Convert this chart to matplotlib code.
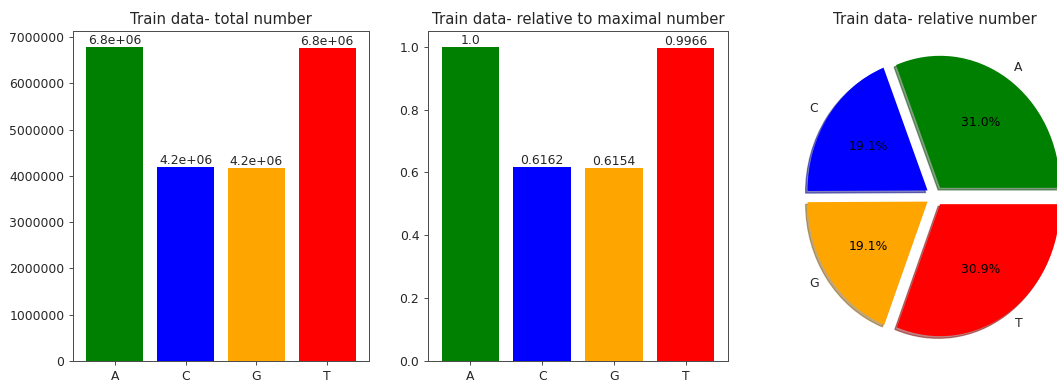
import matplotlib
matplotlib.use("Agg")
import matplotlib.pyplot as plt

bases = ["A", "C", "G", "T"]
counts = [6790000, 4184000, 4178600, 6767000]
colors = ["green", "blue", "orange", "red"]

relativo = [c / max(counts) for c in counts]

W, H = 1057, 381
DPI = 89
fig = plt.figure(figsize=(W / DPI, H / DPI), dpi=DPI)

def caixa(x0, x1, y0, y1):
    return [x0 / W, 1 - y1 / H, (x1 - x0) / W, (y1 - y0) / H]

# total
ax1 = fig.add_axes(caixa(73, 369, 31, 361))
barras = ax1.bar(bases, counts, color=colors)
for b, v in zip(barras, counts):
    ax1.text(b.get_x() + b.get_width() / 2, b.get_height(), "{:.1e}".format(v),
             ha="center", va="bottom", fontsize=10, color="0.15")
ax1.set_title("Train data- total number", color="0.15")
ax1.ticklabel_format(axis="y", style="plain")

# relativo ao maximo
ax2 = fig.add_axes(caixa(428, 728, 31, 361))
barras = ax2.bar(bases, relativo, color=colors)
for b, v in zip(barras, relativo):
    ax2.text(b.get_x() + b.get_width() / 2, b.get_height(), str(round(v, 4)),
             ha="center", va="bottom", fontsize=10, color="0.15")
ax2.set_title("Train data- relative to maximal number", color="0.15")

# pizza
ax3 = fig.add_axes(caixa(785, 1085, 31, 361))
_, textos, pcts = ax3.pie(counts, labels=bases, colors=colors, autopct="%1.1f%%",
                          explode=[0.075] * 4,
                          shadow={"ox": -0.013, "oy": -0.013, "shade": 0.5})
for t in textos:
    t.set_color("0.15")
ax3.set_aspect("auto")
ax3.set_xlim(-1.25, 1.25)
ax3.set_ylim(-1.25, 1.25)
ax3.set_title("Train data- relative number", color="0.15")

for ax in (ax1, ax2):
    for s in ax.spines.values():
        s.set_color("0.3")
    ax.tick_params(colors="0.3", labelcolor="0.15")

plt.savefig("out.png", dpi=DPI)
